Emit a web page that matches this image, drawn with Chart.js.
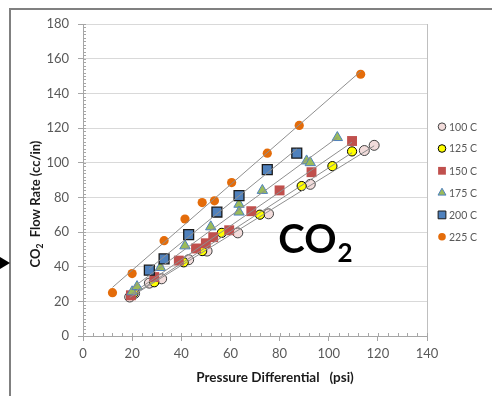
<!DOCTYPE html>
<html><head><meta charset="utf-8">
<script src="https://cdn.jsdelivr.net/npm/chart.js@4.4.1/dist/chart.umd.min.js"></script>
<style>
html,body{margin:0;padding:0;background:#fff;}
#wrap{position:relative;width:492px;height:396px;overflow:hidden;background:#fff;}
#frame{position:absolute;left:9px;top:8px;width:700px;height:700px;border-top:2px solid #808080;border-left:2px solid #808080;}
#arrow{position:absolute;left:0;top:257px;width:0;height:0;border-top:6px solid transparent;border-bottom:6px solid transparent;border-left:10px solid #000;}
canvas{position:absolute;left:0;top:0;}
</style></head><body>
<div id="wrap"><div id="frame"></div><div id="arrow"></div><canvas id="c" width="492" height="396"></canvas></div>
<script>
// ---- data ----
const seriesLabels = ['100 C','125 C','150 C','175 C','200 C','225 C'];
const x100 = [19,21,27,32,43,50.5,63,75.5,92.5,114.5,118.5];
const y100 = [22.5,24.5,30.5,33,44,49,59.5,70.5,87.5,107,110];
const x125 = [20.5,29,41,48.5,56.5,72,89,101.5,109.5];
const y125 = [24.5,31,42.5,49,59.5,70,86.5,98,106.5];
const x150 = [19.5,29,39,46,50,53,59.5,68.5,80,93,109.5];
const y150 = [23.5,34,43.5,50.5,53.5,57,61,72,84,94.5,112.5];
const x175 = [20,22,31.5,41.5,52,63.5,63.5,73,91,92.5,103.5];
const y175 = [25.5,28.5,39.5,52,63,76,71.5,84,101,100,114.5];
const x200 = [27,33,43,54.5,63.5,75,87];
const y200 = [38,44.5,58.5,71.5,81,96,105.5];
const x225 = [12,20,33,41.5,48.5,53.5,60.5,75,88,113];
const y225 = [25,36,55,67.5,77,78,88.5,105.5,121.5,151];
const xTickValues = [0,20,40,60,80,100,120,140];
const yTickValues = [0,20,40,60,80,100,120,140,160,180];
const xTitle = 'Pressure Differential   (psi)';
const yTitleMain = 'CO';
const yTitleSub = '2';
const yTitleRest = '  Flow Rate (cc/in)';
const annoMain = 'CO';
const annoSub = '2';

// ---- styles ----
const styles = [
  {pointStyle:'circle', radius:5, bg:'#f2dcdb', border:'#404040', bw:1, lr:3.8},
  {pointStyle:'circle', radius:4.6, bg:'#ffff00', border:'#000000', bw:1, lr:3.8},
  {pointStyle:'rect', radius:7, bg:'#c0504d', border:'#c0504d', bw:0, lr:5.5},
  {pointStyle:'triangle', radius:6, bg:'#9bbb59', border:'#4f81bd', bw:1, lr:4.6},
  {pointStyle:'rect', radius:7, bg:'#4f81bd', border:'#1a1a1a', bw:1.3, lr:5.5},
  {pointStyle:'circle', radius:4.6, bg:'#e46c0a', border:'#e46c0a', bw:0, lr:3.8}
];
const xs = [x100,x125,x150,x175,x200,x225];
const ys = [y100,y125,y150,y175,y200,y225];

function pts(a,b){ return a.map((v,i)=>({x:v,y:b[i]})); }
function trend(a,b){
  const n=a.length; let sx=0,sy=0,sxx=0,sxy=0;
  for(let i=0;i<n;i++){sx+=a[i];sy+=b[i];sxx+=a[i]*a[i];sxy+=a[i]*b[i];}
  const m=(n*sxy-sx*sy)/(n*sxx-sx*sx), c=(sy-m*sx)/n;
  const x0=Math.min(...a), x1=Math.max(...a);
  return [{x:x0,y:c+m*x0},{x:x1,y:c+m*x1}];
}

const datasets = [];
seriesLabels.forEach((lab,i)=>{
  const s=styles[i];
  datasets.push({type:'scatter',label:lab,data:pts(xs[i],ys[i]),pointStyle:s.pointStyle,
    pointRadius:s.radius,pointHoverRadius:s.radius,backgroundColor:s.bg,borderColor:s.border,
    pointBorderWidth:s.bw,borderWidth:s.bw,showLine:false,order:10-i});
});
seriesLabels.forEach((lab,i)=>{
  datasets.push({type:'line',label:'trend '+lab,data:trend(xs[i],ys[i]),borderColor:'#8f8f8f',
    borderWidth:1,pointRadius:0,fill:false,order:0});
});

const FONT='Lato, "Open Sans", sans-serif';

const decor = {
  id:'decor',
  afterDraw(chart){
    const ctx=chart.ctx, ca=chart.chartArea, xS=chart.scales.x, yS=chart.scales.y;
    ctx.save();
    // right border
    ctx.strokeStyle='#bfbfbf'; ctx.lineWidth=1;
    ctx.beginPath(); ctx.moveTo(Math.round(ca.right)+0.5,ca.top); ctx.lineTo(Math.round(ca.right)+0.5,ca.bottom); ctx.stroke();
    // minor ticks
    ctx.strokeStyle='#a6a6a6';
    ctx.beginPath();
    for(let v=0; v<=140; v+=4){
      const px=Math.round(xS.getPixelForValue(v))+0.5;
      ctx.moveTo(px,ca.bottom); ctx.lineTo(px,ca.bottom-3);
    }
    for(let v=0; v<=180; v+=2){
      const py=Math.round(yS.getPixelForValue(v))+0.5;
      ctx.moveTo(ca.left,py); ctx.lineTo(ca.left+3,py);
    }
    ctx.stroke();
    // axis titles
    ctx.fillStyle='#1a1a1a';
    ctx.font='bold 13.5px '+FONT; ctx.textBaseline='alphabetic';
    ctx.textAlign='center';
    ctx.fillText(xTitle, 275, 382);
    // y title rotated
    ctx.save();
    ctx.translate(39.5, 204); ctx.rotate(-Math.PI/2);
    const fMain='bold 13px '+FONT, fSub='bold 8.5px '+FONT;
    ctx.font=fMain; const w1=ctx.measureText(yTitleMain).width, w3=ctx.measureText(yTitleRest).width;
    ctx.font=fSub; const w2=ctx.measureText(yTitleSub).width;
    const tot=w1+w2+w3; let cx=-tot/2;
    ctx.textAlign='left';
    ctx.font=fMain; ctx.fillText(yTitleMain,cx,0); cx+=w1;
    ctx.font=fSub; ctx.fillText(yTitleSub,cx,3); cx+=w2;
    ctx.font=fMain; ctx.fillText(yTitleRest,cx,0);
    ctx.restore();
    // big annotation
    ctx.fillStyle='#000';
    ctx.textAlign='left';
    const ax=xS.getPixelForValue(79.5), ay=yS.getPixelForValue(48);
    ctx.font='bold 40px '+FONT; ctx.fillText(annoMain, ax, ay);
    const aw=ctx.measureText(annoMain).width;
    ctx.font='bold 26px '+FONT; ctx.fillText(annoSub, ax+aw+1, ay+9);
    // legend
    const ly=[126.7,148.5,170.8,192.8,214.9,236.8];
    ctx.font='10.5px '+FONT; ctx.textBaseline='middle';
    seriesLabels.forEach((lab,i)=>{
      const s=styles[i];
      ctx.fillStyle=s.bg; ctx.strokeStyle=s.border; ctx.lineWidth=s.bw>0?1:0;
      Chart.helpers.drawPoint(ctx,{pointStyle:s.pointStyle,radius:s.lr,rotation:0,borderWidth:s.bw>0?1:0},442,ly[i]);
      ctx.fillStyle='#595959';
      ctx.fillText(lab,449,ly[i]+0.5);
    });
    ctx.restore();
  }
};

new Chart(document.getElementById('c'),{
  data:{datasets},
  options:{
    responsive:false, animation:false, devicePixelRatio:1,
    layout:{padding:{left:0,right:65,top:24,bottom:20}},
    plugins:{legend:{display:false},tooltip:{enabled:false}},
    scales:{
      x:{type:'linear',min:0,max:140,
        afterBuildTicks(s){ s.ticks=xTickValues.map(v=>({value:v})); },
        afterFit(s){ s.height=40; },
        ticks:{color:'#595959',font:{family:FONT,size:13},padding:5},
        grid:{drawOnChartArea:false,drawTicks:true,tickLength:5,color:'#a6a6a6',tickColor:'#a6a6a6'},
        border:{display:true,color:'#a6a6a6'}},
      y:{type:'linear',min:0,max:180,
        afterBuildTicks(s){ s.ticks=yTickValues.map(v=>({value:v})); },
        afterFit(s){ s.width=83; },
        ticks:{color:'#595959',font:{family:FONT,size:13},padding:9},
        grid:{color:'#d9d9d9',drawTicks:true,tickLength:5,tickColor:'#a6a6a6'},
        border:{display:true,color:'#a6a6a6'}}
    }
  },
  plugins:[decor]
});
</script>
</body></html>
